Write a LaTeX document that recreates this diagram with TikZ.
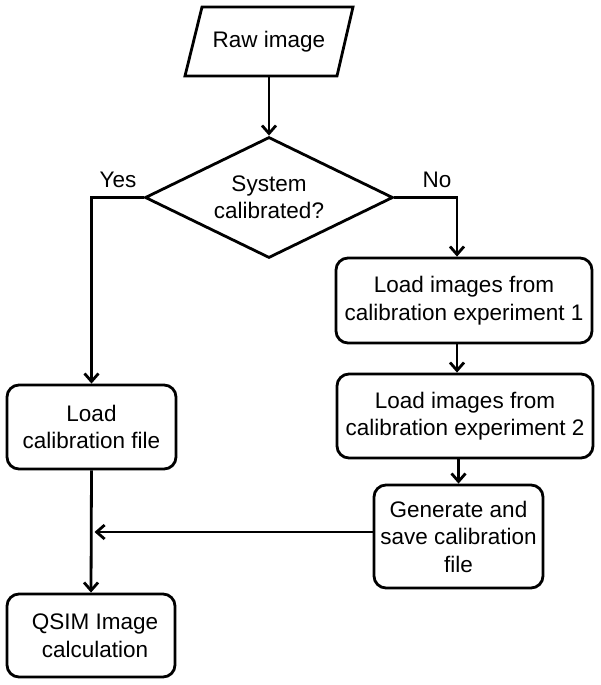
\documentclass[tikz,border=0pt]{standalone}
\usepackage{fontspec}
\setmainfont{Liberation Sans}
\usetikzlibrary{arrows.meta,shapes.geometric}
\begin{document}
\begin{tikzpicture}[x=1pt,y=-1pt,
  every node/.style={font=\fontsize{22.5}{27.5}\selectfont, align=center, inner sep=0pt},
  line/.style={line width=2.8pt},
  arr/.style={line, -{Straight Barb[length=8pt,width=14pt]}},
  box/.style={draw, line width=2.8pt, rounded corners=12pt, minimum width=#1},
  dec/.style={draw, diamond, aspect=2.05, line width=2.8pt, minimum width=248pt, minimum height=121pt}
]
\useasboundingbox (0,0) rectangle (600,685);
% Raw image parallelogram
\draw[line, line join=miter] (202,7) -- (353,7) -- (337,76) -- (185,76) -- cycle;
\node[minimum width=150pt, minimum height=69pt] (raw) at (269,41.5) {Raw image};
% decision
\node[dec] (dec) at (269,197.5) {System\\calibrated?};
\node (yes) at (118,180) {Yes};
\node (no) at (437,180) {No};
% boxes
\node[box=256pt, minimum height=85pt] (b1) at (464,300.5) {Load images from\\calibration experiment 1};
\node[box=256pt, minimum height=84pt] (b2) at (465,416) {Load images from\\calibration experiment 2};
\node[box=169pt, minimum height=103pt] (gen) at (458.5,536.5) {Generate and\\save calibration\\file};
\node[box=169pt, minimum height=84pt] (load) at (91.5,427) {Load\\calibration file};
\node[box=168pt, minimum height=83pt] (qsim) at (91,635.5) {\hspace*{8pt}QSIM Image\\\hspace*{8pt}calculation};
% connectors
\draw[arr] (raw.south) -- (dec.north);
\draw[arr] (dec.west) -| (load.north);
\draw[arr] (dec.east) -| ([xshift=-7pt]b1.north);
\draw[arr] ([xshift=-7pt]b1.south) -- ([xshift=-8pt]b2.north);
\draw[arr] (gen.north |- b2.south) -- (gen.north);
\draw[arr] (load.south) -- (qsim.north);
\draw[arr] ([yshift=4.5pt]gen.west) -- ([yshift=4.5pt,xshift=3pt]load.south |- gen.west);
\end{tikzpicture}
\end{document}
